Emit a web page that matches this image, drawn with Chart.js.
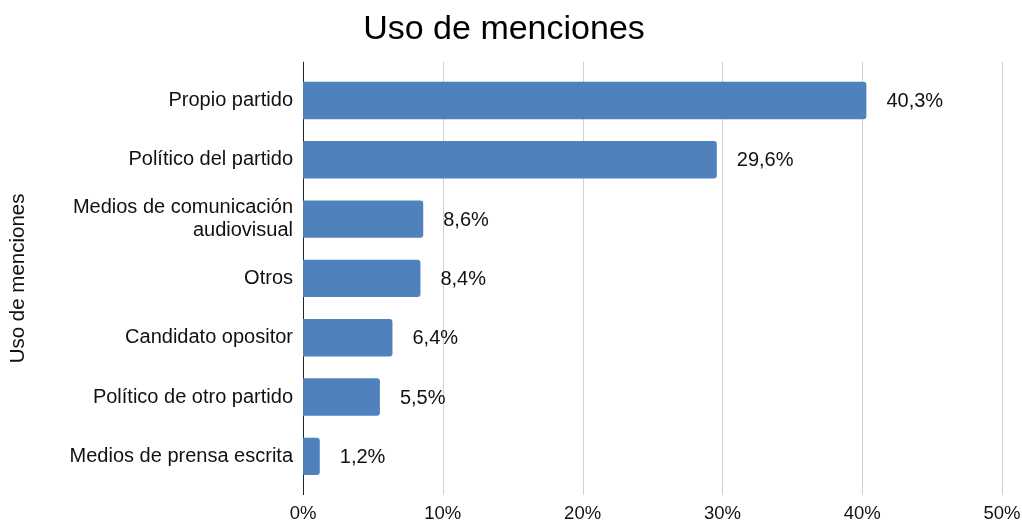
<!DOCTYPE html>
<html><head><meta charset="utf-8">
<script src="https://cdn.jsdelivr.net/npm/chart.js@4/dist/chart.umd.min.js"></script>
<style>html,body{margin:0;padding:0;background:#fff}#wrap{width:1022px;height:522px}</style>
</head><body><div id="wrap"><canvas id="c"></canvas></div>
<script>
const categories = ["Propio partido", "Político del partido", ["Medios de comunicación", "audiovisual"], "Otros", "Candidato opositor", "Político de otro partido", "Medios de prensa escrita"];
const values = [40.3, 29.6, 8.6, 8.4, 6.4, 5.5, 1.2];
const xTicks = [0, 10, 20, 30, 40, 50];
const FONT = "'Liberation Sans', Arial, sans-serif";

const gridPlugin = {
  id: 'gridExt',
  beforeDatasetsDraw(chart) {
    const ctx = chart.ctx, xs = chart.scales.x, a = chart.chartArea;
    ctx.save();
    ctx.lineWidth = 1;
    ctx.strokeStyle = '#d0d0d0';
    xTicks.forEach(t => {
      if (t === 0) return;
      const x = Math.round(xs.getPixelForValue(t)) + 0.5;
      ctx.beginPath(); ctx.moveTo(x, a.top - 9); ctx.lineTo(x, a.bottom + 9); ctx.stroke();
    });
    const x0 = Math.round(xs.getPixelForValue(0)) + 0.5;
    ctx.strokeStyle = '#222';
    ctx.beginPath(); ctx.moveTo(x0, a.top - 9); ctx.lineTo(x0, a.bottom + 9); ctx.stroke();
    ctx.restore();
  },
  afterDatasetsDraw(chart) {
    const ctx = chart.ctx, meta = chart.getDatasetMeta(0);
    ctx.save();
    ctx.font = "20px " + FONT;
    ctx.fillStyle = '#111';
    ctx.textAlign = 'left';
    ctx.textBaseline = 'middle';
    meta.data.forEach((bar, i) => {
      ctx.fillText(values[i].toFixed(1).replace('.', ',') + '%', bar.x + 20, bar.y + 1);
    });
    ctx.restore();
  }
};

new Chart(document.getElementById('c'), {
  type: 'bar',
  data: { labels: categories, datasets: [{ data: values, backgroundColor: '#4f81bd', borderRadius: {topRight: 3, bottomRight: 3, topLeft: 0, bottomLeft: 0}, borderSkipped: 'start', barPercentage: 0.63, categoryPercentage: 1 }] },
  options: {
    indexAxis: 'y',
    responsive: true, maintainAspectRatio: false, animation: false,
    layout: { padding: { top: 0, right: 20, bottom: 0, left: 6 } },
    plugins: {
      legend: { display: false },
      tooltip: { enabled: false },
      title: { display: true, text: 'Uso de menciones', color: '#000', font: { family: FONT, size: 34, weight: 'normal' }, padding: { top: 9, bottom: 21 } }
    },
    scales: {
      x: {
        min: 0, max: 50,
        grid: { display: false, drawTicks: false },
        border: { display: false },
        afterFit: s => { s.height = 36; s.paddingRight = 0; s.paddingLeft = 0; },
        afterBuildTicks: s => { s.ticks = xTicks.map(v => ({ value: v })); },
        ticks: { padding: 17, color: '#111', font: { family: FONT, size: 18.5 }, callback: v => v + '%' }
      },
      y: {
        grid: { display: false, drawTicks: false },
        border: { display: false },
        afterFit: s => { s.width = 297; },
        title: { display: true, text: 'Uso de menciones', color: '#111', font: { family: FONT, size: 20.5 }, padding: 0 },
        ticks: { padding: 10, color: '#111', font: { family: FONT, size: 20, lineHeight: 1.15 } }
      }
    }
  },
  plugins: [gridPlugin]
});
</script></body></html>
